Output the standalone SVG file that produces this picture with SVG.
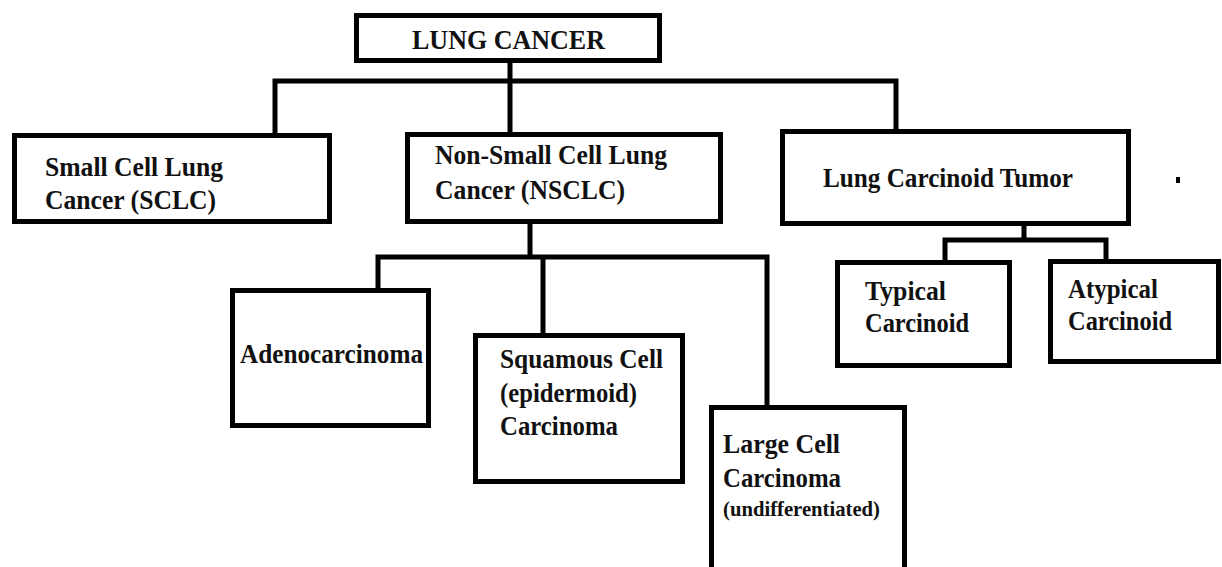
<svg xmlns="http://www.w3.org/2000/svg" width="1222" height="567" viewBox="0 0 1222 567">
<style>
.box{fill:#fff;stroke:#000;stroke-width:5}
.ln{fill:none;stroke:#000;stroke-width:5;stroke-linecap:square}
text{font-family:'Liberation Serif','DejaVu Serif',serif;font-weight:bold;font-size:27px;fill:#111}
.sm{font-size:21px}
</style>
<rect width="1222" height="567" fill="#fff"/>
<g id="connectors">
<path class="ln" d="M510 63V81M275 81H896M275 81V133M510 81V132M896 81V129"/>
<path class="ln" d="M530 224V257M378 257H767M378 257V288M543 257V333M767 257V405"/>
<path class="ln" d="M1024 226V240M945 240H1106M945 240V260M1106 240V259"/>
</g>
<g id="lung-cancer">
<rect class="box" x="356.5" y="15.5" width="303" height="45"/>
<text x="412" y="49" textLength="193" lengthAdjust="spacingAndGlyphs">LUNG CANCER</text>
</g>
<g id="sclc">
<rect class="box" x="14.5" y="135.5" width="315" height="86"/>
<text x="45" y="176" textLength="178" lengthAdjust="spacingAndGlyphs">Small Cell Lung</text>
<text x="45" y="209" textLength="171" lengthAdjust="spacingAndGlyphs">Cancer (SCLC)</text>
</g>
<g id="nsclc">
<rect class="box" x="407.5" y="134.5" width="313" height="87"/>
<text x="435" y="164" textLength="232" lengthAdjust="spacingAndGlyphs">Non-Small Cell Lung</text>
<text x="435" y="199" textLength="190" lengthAdjust="spacingAndGlyphs">Cancer (NSCLC)</text>
</g>
<g id="carcinoid">
<rect class="box" x="782.5" y="131.5" width="346" height="92"/>
<text x="823" y="187" textLength="250" lengthAdjust="spacingAndGlyphs">Lung Carcinoid Tumor</text>
</g>
<rect x="1176" y="177" width="4" height="6" fill="#000"/>
<g id="adeno">
<rect class="box" x="232.5" y="290.5" width="196" height="135"/>
<text x="240" y="363" textLength="183" lengthAdjust="spacingAndGlyphs">Adenocarcinoma</text>
</g>
<g id="squamous">
<rect class="box" x="475.5" y="335.5" width="207" height="146"/>
<text x="500" y="368" textLength="163" lengthAdjust="spacingAndGlyphs">Squamous Cell</text>
<text x="500" y="402" textLength="137" lengthAdjust="spacingAndGlyphs">(epidermoid)</text>
<text x="500" y="435" textLength="118" lengthAdjust="spacingAndGlyphs">Carcinoma</text>
</g>
<g id="large">
<rect class="box" x="711.5" y="407.5" width="193" height="180"/>
<text x="723" y="453" textLength="117" lengthAdjust="spacingAndGlyphs">Large Cell</text>
<text x="723" y="487" textLength="118" lengthAdjust="spacingAndGlyphs">Carcinoma</text>
<text class="sm" x="723" y="516" textLength="157" lengthAdjust="spacingAndGlyphs">(undifferentiated)</text>
</g>
<g id="typical">
<rect class="box" x="837.5" y="262.5" width="172" height="103"/>
<text x="865" y="300" textLength="81" lengthAdjust="spacingAndGlyphs">Typical</text>
<text x="865" y="332" textLength="104" lengthAdjust="spacingAndGlyphs">Carcinoid</text>
</g>
<g id="atypical">
<rect class="box" x="1050.5" y="261.5" width="168" height="100"/>
<text x="1068" y="298" textLength="90" lengthAdjust="spacingAndGlyphs">Atypical</text>
<text x="1068" y="330" textLength="104" lengthAdjust="spacingAndGlyphs">Carcinoid</text>
</g>
</svg>
